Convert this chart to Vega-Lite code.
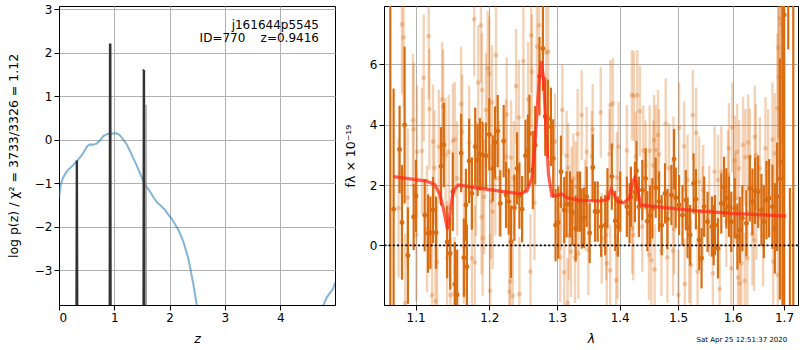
{
"$schema":"https://vega.github.io/schema/vega-lite/v6.json",
"padding":{"left":6,"top":2,"right":2,"bottom":0},
"spacing":7,
"config":{
"font":"DejaVu Sans",
"view":{"stroke":"black","strokeWidth":1},
"axis":{"domainColor":"black","domainWidth":1,"tickColor":"black","tickSize":5,"tickWidth":1,"labelColor":"black","labelFontSize":12,"labelFont":"DejaVu Sans","labelPadding":2,"titleFont":"DejaVu Sans","titleFontSize":12.5,"titleFontWeight":"normal","titleColor":"black","gridColor":"#b0b0b0","gridWidth":1,"gridOpacity":1}
},
"datasets":{
"pz":[
{"z":0,"y":-1.34,"seg":0},{"z":0.03,"y":-1.05,"seg":0},{"z":0.07,"y":-0.88,"seg":0},{"z":0.14,"y":-0.73,"seg":0},{"z":0.26,"y":-0.58,"seg":0},{"z":0.33,"y":-0.48,"seg":0},{"z":0.41,"y":-0.36,"seg":0},{"z":0.46,"y":-0.26,"seg":0},{"z":0.51,"y":-0.15,"seg":0},{"z":0.56,"y":-0.11,"seg":0},{"z":0.62,"y":-0.12,"seg":0},{"z":0.68,"y":-0.09,"seg":0},{"z":0.74,"y":-0.02,"seg":0},{"z":0.8,"y":0.08,"seg":0},{"z":0.88,"y":0.13,"seg":0},{"z":0.96,"y":0.14,"seg":0},{"z":1.04,"y":0.145,"seg":0},{"z":1.1,"y":0.1,"seg":0},{"z":1.16,"y":0.0,"seg":0},{"z":1.22,"y":-0.1,"seg":0},{"z":1.28,"y":-0.25,"seg":0},{"z":1.34,"y":-0.42,"seg":0},{"z":1.4,"y":-0.58,"seg":0},{"z":1.46,"y":-0.76,"seg":0},{"z":1.52,"y":-0.94,"seg":0},{"z":1.58,"y":-1.08,"seg":0},{"z":1.64,"y":-1.18,"seg":0},{"z":1.71,"y":-1.33,"seg":0},{"z":1.78,"y":-1.45,"seg":0},{"z":1.85,"y":-1.53,"seg":0},{"z":1.92,"y":-1.62,"seg":0},{"z":1.98,"y":-1.73,"seg":0},{"z":2.04,"y":-1.82,"seg":0},{"z":2.1,"y":-1.95,"seg":0},{"z":2.17,"y":-2.1,"seg":0},{"z":2.25,"y":-2.35,"seg":0},{"z":2.34,"y":-2.74,"seg":0},{"z":2.43,"y":-3.33,"seg":0},{"z":2.49,"y":-3.8,"seg":0},{"z":2.51,"y":-4.0,"seg":0},
{"z":4.76,"y":-4.0,"seg":1},{"z":4.78,"y":-3.8,"seg":1},{"z":4.84,"y":-3.63,"seg":1},{"z":4.9,"y":-3.52,"seg":1},{"z":4.95,"y":-3.44,"seg":1},{"z":4.99,"y":-3.29,"seg":1}
],
"spikes":[
{"s":1,"z":0.31,"y":-4.5},{"s":1,"z":0.318,"y":-0.5},{"s":1,"z":0.328,"y":-0.5},{"s":1,"z":0.336,"y":-4.5},
{"s":2,"z":0.912,"y":-4.5},{"s":2,"z":0.918,"y":2.19},{"s":2,"z":0.932,"y":2.19},{"s":2,"z":0.938,"y":-4.5},
{"s":3,"z":1.523,"y":-4.5},{"s":3,"z":1.529,"y":1.59},{"s":3,"z":1.541,"y":1.58},{"s":3,"z":1.547,"y":-4.5},
{"s":4,"z":1.569,"y":-4.5},{"s":4,"z":1.573,"y":0.8},{"s":4,"z":1.577,"y":-4.5}
],
"notes":[
{"t":"j161644p5545","z":4.70,"y":2.55},
{"t":"ID=770\u00a0\u00a0\u00a0\u00a0z=0.9416","z":4.70,"y":2.24}
],
"dark":[
{"l":1.0675,"f":10,"e":14},{"l":1.0717,"f":1.2,"e":4},{"l":1.0793,"f":3.18,"e":1.45},{"l":1.0823,"f":0.76,"e":1.9},{"l":1.0857,"f":3.99,"e":2.6},{"l":1.09,"f":-0.34,"e":1.6},{"l":1.0974,"f":0.94,"e":1.1},{"l":1.1004,"f":1.64,"e":1.2},{"l":1.1118,"f":1.0,"e":1.2},{"l":1.1162,"f":0.39,"e":1.3},
{"l":1.1193,"f":0.42,"e":1.2},{"l":1.1228,"f":1.17,"e":1.1},{"l":1.1268,"f":0.42,"e":1.2},{"l":1.1335,"f":2.62,"e":1.3},{"l":1.1372,"f":3.33,"e":1.4},{"l":1.1417,"f":0.11,"e":1.2},{"l":1.1457,"f":-0.27,"e":1.2},{"l":1.1494,"f":1.78,"e":1.3},{"l":1.1522,"f":-1.29,"e":1.4},{"l":1.1553,"f":-1.64,"e":1.5},
{"l":1.1608,"f":3.06,"e":1.3},{"l":1.1645,"f":-0.41,"e":1.3},{"l":1.1673,"f":1.34,"e":1.2},{"l":1.1687,"f":-0.71,"e":1.4},{"l":1.1718,"f":2.8,"e":1.4},{"l":1.1756,"f":1.72,"e":1.2},{"l":1.1802,"f":3.27,"e":1.3},{"l":1.1836,"f":2.83,"e":1.2},{"l":1.1868,"f":3.02,"e":1.2},{"l":1.1906,"f":3.0,"e":1.1},
{"l":1.1953,"f":2.97,"e":1.1},{"l":1.2,"f":3.68,"e":1.2},{"l":1.2049,"f":2.55,"e":1.1},{"l":1.2082,"f":3.41,"e":1.2},{"l":1.212,"f":3.79,"e":1.2},{"l":1.2157,"f":1.39,"e":1.1},{"l":1.2206,"f":3.46,"e":1.2},{"l":1.224,"f":1.67,"e":1.1},{"l":1.2279,"f":1.45,"e":1.1},{"l":1.2313,"f":0.12,"e":1.2},
{"l":1.2362,"f":1.25,"e":1.1},{"l":1.2401,"f":2.55,"e":1.2},{"l":1.2435,"f":1.65,"e":1.1},{"l":1.2475,"f":1.2,"e":1.1},{"l":1.2524,"f":2.97,"e":1.2},{"l":1.256,"f":3.14,"e":1.2},{"l":1.2584,"f":3.7,"e":1.3},{"l":1.2634,"f":2.5,"e":1.3},{"l":1.2669,"f":3.32,"e":1.3},{"l":1.2734,"f":5.61,"e":1.3},
{"l":1.2785,"f":6.53,"e":1.4},{"l":1.282,"f":4.27,"e":1.3},{"l":1.2861,"f":4.2,"e":1.3},{"l":1.2907,"f":3.93,"e":1.3},{"l":1.2942,"f":2.88,"e":1.3},{"l":1.2978,"f":0.67,"e":1.2},{"l":1.3019,"f":0.76,"e":1.2},{"l":1.3061,"f":2.44,"e":1.2},{"l":1.3112,"f":1.17,"e":1.1},{"l":1.3148,"f":1.36,"e":1.1},
{"l":1.3201,"f":1.36,"e":1.1},{"l":1.3238,"f":1.09,"e":1.1},{"l":1.329,"f":0.56,"e":1.1},{"l":1.3321,"f":1.45,"e":1.0},{"l":1.3359,"f":1.45,"e":1.0},{"l":1.3385,"f":0.89,"e":1.0},{"l":1.3423,"f":0.92,"e":1.0},{"l":1.3464,"f":1.61,"e":1.0},{"l":1.3512,"f":0.41,"e":1.0},{"l":1.3561,"f":2.58,"e":1.1},
{"l":1.3599,"f":1.12,"e":1.0},{"l":1.3641,"f":1.12,"e":1.0},{"l":1.3696,"f":0.62,"e":1.0},{"l":1.3762,"f":0.67,"e":1.0},{"l":1.3799,"f":1.56,"e":1.0},{"l":1.387,"f":2.28,"e":1.1},{"l":1.3926,"f":0.81,"e":1.0},{"l":1.397,"f":0.62,"e":1.0},{"l":1.4009,"f":1.45,"e":1.0},{"l":1.4119,"f":1.28,"e":1.0},
{"l":1.4164,"f":1.06,"e":1.0},{"l":1.4186,"f":1.61,"e":1.0},{"l":1.4254,"f":1.77,"e":1.0},{"l":1.4282,"f":2.47,"e":1.0},{"l":1.4321,"f":1.28,"e":1.0},{"l":1.4379,"f":1.83,"e":1.0},{"l":1.4436,"f":2.22,"e":1.0},{"l":1.4465,"f":0.8,"e":1.0},{"l":1.451,"f":0.98,"e":1.0},{"l":1.4551,"f":1.23,"e":1.0},
{"l":1.4608,"f":1.91,"e":1.0},{"l":1.4666,"f":1.45,"e":1.0},{"l":1.4712,"f":0.67,"e":1.0},{"l":1.477,"f":1.72,"e":1.0},{"l":1.4812,"f":0.87,"e":1.0},{"l":1.4882,"f":1.67,"e":1.0},{"l":1.4929,"f":2.86,"e":1.0},{"l":1.4958,"f":1.58,"e":1.0},{"l":1.5018,"f":1.34,"e":1.0},{"l":1.5079,"f":1.0,"e":1.0},
{"l":1.5138,"f":1.5,"e":1.0},{"l":1.5169,"f":0.59,"e":1.0},{"l":1.5215,"f":0.34,"e":1.0},{"l":1.5277,"f":2.05,"e":1.0},{"l":1.5319,"f":1.53,"e":1.0},{"l":1.5378,"f":0.18,"e":1.0},{"l":1.5422,"f":-0.43,"e":1.0},{"l":1.547,"f":1.28,"e":1.0},{"l":1.5532,"f":0.78,"e":1.0},{"l":1.5612,"f":0.62,"e":1.0},
{"l":1.5644,"f":0.34,"e":1.0},{"l":1.5668,"f":0.67,"e":1.0},{"l":1.5724,"f":-0.1,"e":1.0},{"l":1.5786,"f":1.39,"e":1.0},{"l":1.5837,"f":1.94,"e":1.0},{"l":1.588,"f":1.56,"e":1.0},{"l":1.593,"f":1.28,"e":1.0},{"l":1.5974,"f":0.78,"e":1.0},{"l":1.6039,"f":1.23,"e":1.0},{"l":1.6089,"f":0.29,"e":1.1},
{"l":1.6134,"f":0.51,"e":1.1},{"l":1.6184,"f":0.9,"e":1.1},{"l":1.6261,"f":0.73,"e":1.1},{"l":1.6327,"f":1.89,"e":1.1},{"l":1.6377,"f":1.45,"e":1.1},{"l":1.643,"f":1.81,"e":1.1},{"l":1.6489,"f":1.78,"e":1.2},{"l":1.6553,"f":1.17,"e":1.2},{"l":1.66,"f":0.78,"e":1.2},{"l":1.6652,"f":1.5,"e":1.3},
{"l":1.6704,"f":1.56,"e":1.3},{"l":1.677,"f":1.28,"e":1.4},{"l":1.6817,"f":0.56,"e":1.5},{"l":1.6863,"f":1.61,"e":1.8},{"l":1.6918,"f":2.2,"e":4.0},{"l":1.697,"f":2.77,"e":6},{"l":1.7004,"f":7.64,"e":10},{"l":1.7086,"f":9.5,"e":3},{"l":1.712,"f":-4,"e":5.9},{"l":1.7188,"f":-5,"e":15}
],
"light":[
{"l":1.078,"f":1.23,"e":2.3},{"l":1.0823,"f":7.33,"e":2.3},{"l":1.0845,"f":6.9,"e":2.3},{"l":1.0866,"f":-1.92,"e":2.3},{"l":1.0896,"f":1.58,"e":2.3},{"l":1.0965,"f":4.15,"e":2.2},{"l":1.0974,"f":3.86,"e":2.2},{"l":1.1009,"f":0.34,"e":2.2},{"l":1.1017,"f":3.1,"e":2.2},{"l":1.1082,"f":3.13,"e":2.1},
{"l":1.1105,"f":5.56,"e":2.1},{"l":1.1149,"f":0.54,"e":2.1},{"l":1.1171,"f":6.94,"e":2.1},{"l":1.118,"f":4.52,"e":2.0},{"l":1.1215,"f":-1.65,"e":2.0},{"l":1.1228,"f":3.44,"e":1.9},{"l":1.1247,"f":2.57,"e":1.9},{"l":1.126,"f":-1.85,"e":1.9},{"l":1.1282,"f":-0.56,"e":1.9},{"l":1.1305,"f":3.27,"e":1.9},
{"l":1.1349,"f":4.84,"e":1.9},{"l":1.1363,"f":4.6,"e":1.9},{"l":1.1395,"f":2.99,"e":1.9},{"l":1.1417,"f":-0.43,"e":1.9},{"l":1.1439,"f":3.1,"e":1.9},{"l":1.1462,"f":-1.65,"e":1.9},{"l":1.1494,"f":3.46,"e":1.9},{"l":1.1517,"f":-1.62,"e":1.9},{"l":1.1522,"f":3.52,"e":1.9},{"l":1.1553,"f":2.22,"e":1.9},
{"l":1.1608,"f":4.69,"e":1.9},{"l":1.1622,"f":3.77,"e":1.9},{"l":1.1645,"f":-0.04,"e":1.9},{"l":1.1673,"f":0.23,"e":1.9},{"l":1.1718,"f":3.4,"e":1.9},{"l":1.1756,"f":-0.43,"e":1.9},{"l":1.1788,"f":7.5,"e":1.9},{"l":1.1797,"f":-0.57,"e":1.9},{"l":1.1811,"f":2.2,"e":1.9},{"l":1.1844,"f":5.4,"e":1.9},
{"l":1.1882,"f":7.3,"e":1.9},{"l":1.1891,"f":0.94,"e":1.9},{"l":1.1896,"f":5.15,"e":1.9},{"l":1.1906,"f":0.23,"e":1.9},{"l":1.1929,"f":1.61,"e":1.9},{"l":1.1953,"f":4.49,"e":1.9},{"l":1.1977,"f":5.87,"e":1.9},{"l":1.2,"f":5.7,"e":1.9},{"l":1.201,"f":-1.51,"e":1.9},{"l":1.2024,"f":1.45,"e":1.9},
{"l":1.2038,"f":4.74,"e":1.9},{"l":1.2049,"f":1.12,"e":1.9},{"l":1.2086,"f":2.22,"e":1.9},{"l":1.2096,"f":6.31,"e":1.9},{"l":1.2143,"f":2.22,"e":1.9},{"l":1.224,"f":2.94,"e":1.9},{"l":1.225,"f":4.34,"e":1.9},{"l":1.2288,"f":-1.54,"e":1.9},{"l":1.2302,"f":-1.2,"e":1.9},{"l":1.2313,"f":2.91,"e":1.9},
{"l":1.2338,"f":-1.68,"e":1.9},{"l":1.2352,"f":2.22,"e":1.9},{"l":1.2386,"f":5.28,"e":1.9},{"l":1.2426,"f":4.24,"e":1.9},{"l":1.2435,"f":-1.62,"e":1.9},{"l":1.2494,"f":6.11,"e":1.9},{"l":1.2564,"f":4.85,"e":1.9},{"l":1.2598,"f":-0.87,"e":1.9},{"l":1.2609,"f":6.97,"e":1.9},{"l":1.2619,"f":5.76,"e":1.9},
{"l":1.2659,"f":1.41,"e":1.9},{"l":1.2694,"f":6.59,"e":1.9},{"l":1.2725,"f":7.3,"e":1.9},{"l":1.2835,"f":6.4,"e":1.9},{"l":1.2866,"f":6.42,"e":1.8},{"l":1.2968,"f":3.44,"e":1.6},{"l":1.305,"f":-0.39,"e":1.5},{"l":1.3061,"f":1.34,"e":1.5},{"l":1.3081,"f":4.49,"e":1.5},{"l":1.3112,"f":-0.9,"e":1.5},
{"l":1.3148,"f":2.97,"e":1.5},{"l":1.3164,"f":-1.92,"e":1.5},{"l":1.3175,"f":2.57,"e":1.5},{"l":1.3186,"f":0.34,"e":1.5},{"l":1.3217,"f":-0.21,"e":1.5},{"l":1.3227,"f":1.78,"e":1.5},{"l":1.3254,"f":2.22,"e":1.5},{"l":1.328,"f":-0.41,"e":1.5},{"l":1.329,"f":1.94,"e":1.5},{"l":1.3321,"f":3.69,"e":1.5},
{"l":1.3332,"f":-0.27,"e":1.5},{"l":1.3385,"f":4.32,"e":1.5},{"l":1.3438,"f":1.34,"e":1.5},{"l":1.3464,"f":3.1,"e":1.5},{"l":1.3491,"f":-0.15,"e":1.5},{"l":1.3545,"f":2.96,"e":1.5},{"l":1.3561,"f":3.85,"e":1.5},{"l":1.369,"f":4.41,"e":1.5},{"l":1.3706,"f":0.23,"e":1.5},{"l":1.3778,"f":0.34,"e":1.5},
{"l":1.3788,"f":-0.6,"e":1.5},{"l":1.3832,"f":3.03,"e":1.5},{"l":1.3843,"f":-0.83,"e":1.5},{"l":1.3848,"f":4.65,"e":1.5},{"l":1.3887,"f":4.71,"e":1.5},{"l":1.3953,"f":2.25,"e":1.5},{"l":1.3965,"f":-0.27,"e":1.5},{"l":1.3942,"f":-1.16,"e":1.5},{"l":1.3981,"f":3.27,"e":1.5},{"l":1.4119,"f":3.15,"e":1.5},
{"l":1.4203,"f":4.98,"e":1.5},{"l":1.4209,"f":0.56,"e":1.5},{"l":1.4237,"f":4.95,"e":1.5},{"l":1.4226,"f":0.34,"e":1.5},{"l":1.4265,"f":2.94,"e":1.5},{"l":1.4294,"f":4.98,"e":1.5},{"l":1.4338,"f":4.45,"e":1.5},{"l":1.4379,"f":0.62,"e":1.5},{"l":1.4396,"f":3.14,"e":1.5},{"l":1.4436,"f":2.64,"e":1.5},
{"l":1.4493,"f":-0.32,"e":1.5},{"l":1.4505,"f":3.14,"e":1.5},{"l":1.4534,"f":-0.49,"e":1.5},{"l":1.4568,"f":2.65,"e":1.5},{"l":1.4579,"f":3.49,"e":1.5},{"l":1.4591,"f":-0.8,"e":1.5},{"l":1.4608,"f":3.16,"e":1.5},{"l":1.4648,"f":3.66,"e":1.5},{"l":1.4666,"f":3.02,"e":1.5},{"l":1.4707,"f":-0.18,"e":1.5},
{"l":1.4782,"f":4.04,"e":1.5},{"l":1.4812,"f":-0.4,"e":1.5},{"l":1.484,"f":2.55,"e":1.5},{"l":1.4911,"f":-0.18,"e":1.5},{"l":1.4918,"f":2.77,"e":1.5},{"l":1.4929,"f":0.54,"e":1.5},{"l":1.5007,"f":-1.65,"e":1.5},{"l":1.5018,"f":3.9,"e":1.5},{"l":1.5108,"f":3.28,"e":1.5},{"l":1.512,"f":-1.28,"e":1.5},
{"l":1.5169,"f":2.17,"e":1.5},{"l":1.5197,"f":-0.41,"e":1.5},{"l":1.5228,"f":-0.65,"e":1.5},{"l":1.5264,"f":4.32,"e":1.5},{"l":1.5324,"f":3.73,"e":1.5},{"l":1.535,"f":-0.87,"e":1.5},{"l":1.5378,"f":2.11,"e":1.5},{"l":1.544,"f":1.12,"e":1.5},{"l":1.5452,"f":1.83,"e":1.5},{"l":1.5563,"f":1.14,"e":1.5},
{"l":1.563,"f":-0.93,"e":1.5},{"l":1.5662,"f":2.44,"e":1.5},{"l":1.5724,"f":2.17,"e":1.5},{"l":1.5755,"f":-1.45,"e":1.5},{"l":1.5786,"f":2.44,"e":1.5},{"l":1.588,"f":0.78,"e":1.5},{"l":1.5912,"f":2.33,"e":1.5},{"l":1.593,"f":3.22,"e":1.5},{"l":1.5974,"f":-0.76,"e":1.5},{"l":1.5993,"f":3.91,"e":1.5},
{"l":1.6039,"f":2.81,"e":1.5},{"l":1.605,"f":1.56,"e":1.5},{"l":1.6083,"f":3.1,"e":1.6},{"l":1.6102,"f":-1.07,"e":1.6},{"l":1.6121,"f":2.55,"e":1.6},{"l":1.6134,"f":-1.26,"e":1.6},{"l":1.6165,"f":-0.6,"e":1.6},{"l":1.6197,"f":3.33,"e":1.6},{"l":1.623,"f":-1.18,"e":1.6},{"l":1.6242,"f":2.92,"e":1.6},
{"l":1.628,"f":-0.43,"e":1.6},{"l":1.6294,"f":3.41,"e":1.6},{"l":1.6327,"f":2.94,"e":1.6},{"l":1.6377,"f":0.36,"e":1.7},{"l":1.6424,"f":3.6,"e":1.7},{"l":1.6411,"f":0.18,"e":1.7},{"l":1.6444,"f":2.99,"e":1.7},{"l":1.6456,"f":1.23,"e":1.7},{"l":1.6522,"f":2.55,"e":1.7},{"l":1.6586,"f":0.34,"e":1.7},
{"l":1.6632,"f":3.22,"e":1.7},{"l":1.6685,"f":2.72,"e":1.8},{"l":1.677,"f":3.51,"e":1.9},{"l":1.6784,"f":-0.54,"e":1.9},{"l":1.6817,"f":3.05,"e":2.0},{"l":1.6869,"f":4.54,"e":2.5},{"l":1.6883,"f":6.56,"e":3},{"l":1.6897,"f":5.59,"e":3},{"l":1.6877,"f":-0.98,"e":2.5},{"l":1.6918,"f":7.52,"e":4},
{"l":1.695,"f":7.36,"e":4},{"l":1.697,"f":5.59,"e":4}
],
"model":[
{"l":1.0717,"f":2.28},{"l":1.114,"f":2.13},{"l":1.1251,"f":2.02},{"l":1.1318,"f":1.69},{"l":1.1363,"f":1.25},{"l":1.1422,"f":0.53},{"l":1.1453,"f":1.03},{"l":1.1498,"f":1.8},{"l":1.1567,"f":2.0},{"l":1.1868,"f":1.89},
{"l":1.2153,"f":1.8},{"l":1.2445,"f":1.71},{"l":1.2545,"f":1.8},{"l":1.262,"f":2.24},{"l":1.2669,"f":3.46},{"l":1.2704,"f":4.67},{"l":1.2734,"f":5.61},{"l":1.2759,"f":6.11},{"l":1.2794,"f":5.56},{"l":1.2831,"f":3.9},
{"l":1.287,"f":2.35},{"l":1.2922,"f":1.64},{"l":1.2999,"f":1.64},{"l":1.3066,"f":1.71},{"l":1.3155,"f":1.58},{"l":1.3364,"f":1.49},{"l":1.3685,"f":1.47},{"l":1.3794,"f":1.52},{"l":1.386,"f":1.86},{"l":1.3903,"f":1.69},
{"l":1.3969,"f":1.44},{"l":1.4069,"f":1.41},{"l":1.4169,"f":1.58},{"l":1.421,"f":2.08},{"l":1.4249,"f":2.24},{"l":1.4294,"f":1.91},{"l":1.435,"f":1.34},{"l":1.4753,"f":1.25},{"l":1.5349,"f":1.14},{"l":1.5968,"f":1.06},
{"l":1.6612,"f":1.01},{"l":1.7046,"f":0.97}
],
"stamp":[{"t":"Sat Apr 25 12:51:37 2020","l":1.7065,"f":-3.2}]
},
"hconcat":[
{
"width":276,"height":299,
"layer":[
{"data":{"name":"pz"},"mark":{"type":"line","color":"#1f77b4","opacity":0.55,"strokeWidth":2,"clip":true},
"encoding":{
"x":{"field":"z","type":"quantitative","title":"z","scale":{"domain":[0,4.99],"nice":false,"zero":false},"axis":{"values":[0,1,2,3,4],"format":"d","titleFontStyle":"italic","titlePadding":9}},
"y":{"field":"y","type":"quantitative","title":"log p(z) / χ² = 3733/3326 = 1.12","scale":{"domain":[-3.8,3.07],"nice":false,"zero":false},"axis":{"values":[-3,-2,-1,0,1,2,3],"format":"d","titlePadding":14}},
"detail":{"field":"seg"}}},
{"data":{"name":"spikes"},"transform":[{"filter":"datum.s < 4"}],"mark":{"type":"line","color":"#333333","strokeWidth":1.8,"clip":true},
"encoding":{"x":{"field":"z","type":"quantitative","title":"z"},"y":{"field":"y","type":"quantitative","title":"log p(z) / χ² = 3733/3326 = 1.12"},"detail":{"field":"s"}}},
{"data":{"name":"spikes"},"transform":[{"filter":"datum.s == 4"}],"mark":{"type":"line","color":"#8a8a8a","strokeWidth":1.2,"clip":true},
"encoding":{"x":{"field":"z","type":"quantitative","title":"z"},"y":{"field":"y","type":"quantitative","title":"log p(z) / χ² = 3733/3326 = 1.12"},"detail":{"field":"s"}}},
{"data":{"name":"notes"},"mark":{"type":"text","align":"right","baseline":"alphabetic","fontSize":12,"color":"black","font":"DejaVu Sans"},
"encoding":{"x":{"field":"z","type":"quantitative","title":"z"},"y":{"field":"y","type":"quantitative","title":"log p(z) / χ² = 3733/3326 = 1.12"},"text":{"field":"t"}}}
]
},
{
"width":414,"height":299,
"layer":[
{"data":{"name":"light"},"mark":{"type":"errorbar","color":"#d9690e","opacity":0.3,"thickness":2.4,"clip":true},
"encoding":{
"x":{"field":"l","type":"quantitative","title":"λ","scale":{"type":"log","domain":[1.0596,1.7284],"nice":false,"zero":false},"axis":{"values":[1.1,1.2,1.3,1.4,1.5,1.6,1.7],"format":".1f","titleFontStyle":"italic","titlePadding":9,"grid":true}},
"y":{"field":"f","type":"quantitative","title":"fλ × 10⁻¹⁹","scale":{"domain":[-1.98,7.94],"nice":false,"zero":false},"axis":{"values":[0,2,4,6],"format":"d","titlePadding":12,"grid":true}},
"yError":{"field":"e"}}},
{"data":{"name":"light"},"mark":{"type":"circle","color":"#d9690e","opacity":0.3,"size":22,"clip":true},
"encoding":{"x":{"field":"l","type":"quantitative","title":"λ"},"y":{"field":"f","type":"quantitative","title":"fλ × 10⁻¹⁹"}}},
{"data":{"name":"dark"},"mark":{"type":"errorbar","color":"#d96c10","thickness":2.2,"clip":true},
"encoding":{"x":{"field":"l","type":"quantitative","title":"λ"},"y":{"field":"f","type":"quantitative","title":"fλ × 10⁻¹⁹"},"yError":{"field":"e"}}},
{"data":{"name":"dark"},"mark":{"type":"circle","color":"#d96c10","opacity":1,"size":24,"clip":true},
"encoding":{"x":{"field":"l","type":"quantitative","title":"λ"},"y":{"field":"f","type":"quantitative","title":"fλ × 10⁻¹⁹"}}},
{"data":{"name":"model"},"mark":{"type":"line","color":"#ff2a1a","opacity":0.75,"strokeWidth":3.2,"clip":true},
"encoding":{"x":{"field":"l","type":"quantitative","title":"λ"},"y":{"field":"f","type":"quantitative","title":"fλ × 10⁻¹⁹"}}},
{"data":{"values":[{}]},"mark":{"type":"rule","color":"black","strokeWidth":1.8,"strokeDash":[2,2.2]},
"encoding":{"y":{"datum":0,"title":"fλ × 10⁻¹⁹"}}},
{"data":{"name":"stamp"},"mark":{"type":"text","align":"right","baseline":"alphabetic","fontSize":7,"color":"black","font":"DejaVu Sans"},
"encoding":{"x":{"field":"l","type":"quantitative","title":"λ"},"y":{"field":"f","type":"quantitative","title":"fλ × 10⁻¹⁹"},"text":{"field":"t"}}}
]
}
]
}
